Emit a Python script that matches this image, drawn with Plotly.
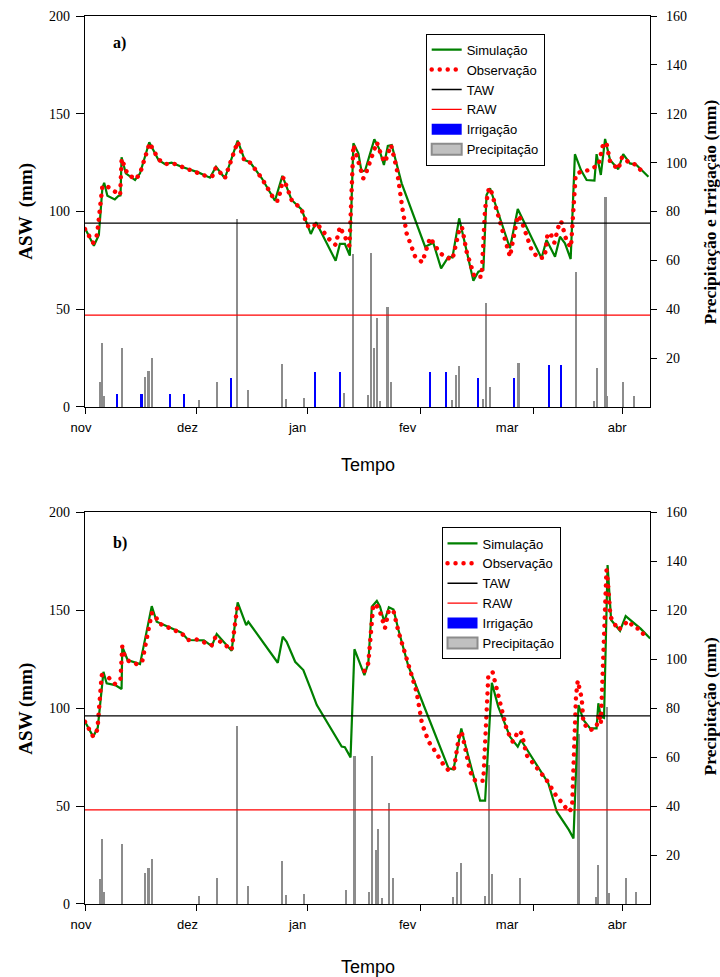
import plotly.graph_objects as go

# ---------------- axis labels / ticks ----------------
months = ["nov", "dez", "jan", "fev", "mar", "abr"]
month_start_day = [0, 30, 61, 92, 120, 151]
tick_mark_day = [0, 31.5, 62.8, 94.4, 126.2, 151.3]
x_max = 159.15
asw_ticks = [0, 50, 100, 150, 200]
rain_ticks = [20, 40, 60, 80, 100, 120, 140, 160]

# ---------------- panel a ----------------
TAW_a = 94
RAW_a = 47
sim_a_day = [0, 2.5, 3.9, 4.9, 5.4, 6.3, 8.4, 9.4, 10.0, 10.3, 11.5, 14.1, 15.5, 18.1, 20.7, 22.5,
             24.4, 27.2, 31.9, 35.2, 36.9, 39.4, 43, 45, 46.5, 49.8, 53.5, 55.6, 58.2, 61, 63.6,
             65.1, 70.6, 71.8, 73.2, 74.6, 75.6, 77, 77.9, 78.9, 81.5, 82.8, 84.2, 85.3, 86.4,
             89.2, 95.8, 98.1, 100.3, 102.4, 103.5, 105.4, 109.4, 110.8, 112.2, 113.1, 114.1,
             119.7, 121.9, 128.6, 130, 132.4, 133.8, 135.2, 136.8, 138, 139.7, 141.3, 143.5,
             144.1, 145.3, 146.5, 147.9, 150.2, 151.6, 153.5, 155.2, 158.7]
sim_a_asw = [91.4, 82.5, 88, 112, 114.7, 108, 106.2, 107.9, 108.2, 127.7, 119.5, 116.1, 119.5, 135.4,
             126.3, 124.3, 125, 122.9, 120, 117.3, 122.9, 117, 136.2, 126.3, 125.2, 117, 105.5,
             118.2, 105.9, 101.1, 88.5, 94.5, 74.8, 83.4, 83.4, 77.4, 134.9, 129.8, 120.4, 121,
             136.9, 132.3, 123.8, 133.5, 134, 114.4, 82, 84, 70.9, 76.9, 76.5, 96.5, 64.6, 69.2,
             70.1, 108.4, 111.9, 81.2, 101.3, 76.1, 85.4, 76.9, 87.1, 83.7, 75.7, 129.3, 121.2,
             116.1, 115.8, 129.3, 118.7, 137.1, 126.3, 121.6, 129.3, 124.6, 124.0, 117.8]
obs_a_day = [0, 2.3, 3.4, 4.9, 6.1, 8.3, 9.9, 10.3, 12, 14.3, 15.5, 18.2, 20.7, 22.5, 25, 27.2,
             29.5, 31.9, 34, 35.9, 36.9, 39.4, 43, 45, 46.5, 49.8, 53.5, 54.4, 55.9, 58.2, 61,
             62.7, 64.3, 65.1, 67.1, 69, 70.6, 71.1, 71.8, 72.8, 73.7, 74.5, 75.6, 77, 78.4,
             79.3, 82.2, 83.6, 84.5, 86.2, 87.8, 89.4, 90.6, 93, 95, 97.2, 99.7, 101.4, 103.5,
             105.6, 106.2, 107.5, 109.7, 111.7, 112.7, 113.8, 114.5, 119.7, 121.9, 122.8, 124.4,
             125.8, 127.7, 129.5, 130.3, 131.2, 132.2, 133.3, 134.1, 134.8, 135.7, 136.9, 138.2,
             139.7, 142, 143.7, 144.6, 146, 146.9, 147.9, 150.2, 151.3, 153.5, 155.2, 157.3]
obs_a_asw = [91, 84, 88, 113, 113, 110.6, 108.4, 127, 119, 116.5, 119.5, 135, 126.7, 124.3, 124.5,
             122.9, 121.3, 120, 118.2, 118.2, 122.5, 117, 135.7, 125.6, 125, 117, 105.5, 105.5,
             117.3, 105.9, 101.1, 92.6, 91.9, 94.3, 89.4, 85.4, 82.9, 87.1, 92.2, 88.5, 84.6,
             82.4, 134, 125.5, 117, 120.4, 135.4, 128, 125.2, 134, 122.1, 101.6, 88.8, 76.9, 74,
             86.6, 79.4, 76.6, 75.5, 91.9, 91.9, 79.4, 66.6, 66.6, 101.6, 112.2, 110, 76.9, 97.9,
             96, 88, 80.3, 76.1, 76.5, 88.8, 88.5, 84, 91.9, 95.1, 91, 84.6, 81.7, 118.7, 120.4,
             121.2, 122.9, 123.5, 134.9, 134.9, 125.5, 121.6, 128, 124.6, 124, 119.5]
precip_a_day = [4.2, 4.9, 5.4, 10.4, 16.9, 17.9, 18.8, 32.1, 37.1, 42.9, 45.8, 55.6, 56.5, 61.6,
                73.0, 75.6, 79.7, 80.5, 81.5, 82.2, 83.1, 85.2, 86.3, 103.3, 104.5, 105.4, 112.0,
                112.9, 114.1, 122.1, 138.2, 143.4, 144.1, 146.6, 147.1, 151.6, 154.6]
precip_a_mm = [10.1, 26.0, 4.5, 24.1, 12.4, 14.6, 19.9, 3.0, 10.1, 76.9, 7.0, 17.5, 3.3, 3.8, 5.6,
               62.6, 4.9, 62.9, 24.0, 36.3, 2.5, 41.0, 10.4, 2.9, 13.1, 16.8, 3.3, 42.4, 8.3,
               18.1, 55.1, 2.6, 15.8, 86.0, 4.5, 10.4, 4.6]
irrig_a_day = [8.9, 15.9, 24.0, 28.0, 41.2, 64.9, 71.8, 97.3, 101.7, 110.8, 120.9, 130.7, 134.0]
irrig_a_mm = [5.3, 5.3, 5.3, 5.3, 11.9, 14.2, 14.2, 14.2, 14.2, 11.7, 11.7, 17.2, 17.2]

# ---------------- panel b ----------------
TAW_b = 96
RAW_b = 48
sim_b_day = [0, 2.3, 3.6, 5.2, 6.1, 8.5, 10.3, 10.5, 12, 15.5, 18.8, 20.2, 27.2, 29.1, 33.5, 35.7,
             37.1, 41.3, 43, 45.4, 46, 49.8, 54.3, 55.7, 56.8, 59.2, 61.5, 63.4, 65.3, 72.3, 73.2,
             74.8, 75.9, 78.7, 79.8, 80.8, 82.2, 83.1, 84.3, 85.6, 86.9, 88.3, 91, 93.9, 102.4,
             103.8, 106, 107, 111.3, 112.7, 114.6, 116.4, 119.7, 121.9, 122.8, 130.5, 132.9,
             136.3, 137.6, 139, 140.4, 142.3, 144.1, 144.6, 145.3, 146.2, 147.2, 148.2, 150.7,
             152.3, 154, 155.1, 156.5, 159.2]
sim_b_asw = [93, 85.4, 90, 118.5, 112.6, 111.7, 109.7, 131.3, 124.5, 122.4, 152, 144, 138.4, 134.7,
             134.5, 131.6, 137.8, 129.2, 153.9, 142.3, 144, 134.7, 123.1, 136.4, 133.8, 123.6,
             119.4, 110.5, 101.5, 80.3, 80, 74.8, 130, 116.8, 122.8, 151.7, 154.6, 151.7, 144,
             151.4, 150.3, 139.8, 121.9, 108.3, 69.2, 68.7, 89.6, 82, 52.7, 52.7, 112.9, 100.7,
             85.4, 80.3, 83.7, 61.6, 47.1, 37.8, 33.5, 101.5, 93.9, 89.6, 89.6, 102.4, 95.6, 95,
             173, 144.9, 139.4, 146.9, 144.4, 142.3, 140.5, 135.5]
obs_b_day = [0, 2.3, 3.5, 4.7, 6.6, 8.5, 10, 10.5, 11.1, 12.3, 14.6, 16.1, 18.8, 19.5, 20.8, 22.8,
             25.2, 27.2, 29.1, 31.4, 33.6, 35.7, 36.8, 37.8, 39.9, 41.3, 42.9, None,
             78.7, 79.8, 81.2, 82, 83.1, 84.5, 85.6, 86.9, 88.3, 93.4, 94.9, 96.8, 98.1, 100.9,
             102.5, 103.9, 105.4, 106.1, 107, 108.5, 109.9, 112.2, 113.6, 114.8, 118.8, 120.5,
             122.1, 123, 124.4, 127.2, 130, 132.6, 134.4, 136.3, 137.2, 138.3, 138.8, 139.4,
             139.9, 140.4, 142.3, 144.1, 144.8, 145.3, 146.9, 147.3, 148, 150.2, 151.5, 153,
             154.9, 156.2, 157.7]
obs_b_asw = [93, 85.4, 89, 116.8, 115.6, 112.2, 114.8, 131.3, 127, 124, 122.4, 123.6, 148.3, 148.3,
             143.2, 141.5, 140, 138.1, 134.7, 135, 133.5, 132.1, 136.4, 134.3, 131.6, 129.6, 151.7,
             None,
             118.9, 122.8, 152.6, 152.8, 149.1, 140.7, 150, 149.5, 139, 108.3, 92.2, 82.8, 79.4,
             71.3, 68, 68.7, 86.2, 87.9, 80.3, 67.5, 62.9, 62.9, 116, 118.5, 88.8, 82.8, 88.4,
             87.1, 76, 69.2, 63.3, 55.6, 51, 47.1, 49, 105.8, 113.9, 109.5, 105, 92.2, 88.6, 90.5,
             97.3, 92, 170.4, 164, 146.6, 139.8, 142, 144.5, 140.7, 140.5, 136.7]
precip_b_day = [4.2, 4.9, 5.4, 10.4, 16.9, 17.9, 18.8, 32.1, 37.1, 42.9, 45.8, 55.6, 56.5, 61.6,
                73.4, 75.9, 80.0, 80.8, 82.0, 82.6, 83.6, 85.6, 86.7, 103.7, 104.9, 106.0, 112.7,
                113.7, 114.6, 122.6, 139.0, 144.0, 144.6, 147.1, 147.7, 152.3, 155.3]
precip_b_mm = [10.2, 26.4, 4.8, 24.4, 12.5, 14.8, 18.4, 3.3, 10.7, 72.7, 7.3, 17.6, 3.7, 4.1, 5.7,
               60.4, 5.0, 60.5, 22.0, 30.6, 2.6, 41.1, 10.5, 3.0, 12.9, 16.6, 3.3, 56.6, 12.2,
               10.5, 69.4, 3.0, 15.9, 80.5, 4.6, 10.7, 4.8]
irrig_b_day = []
irrig_b_mm = []

# ---------------- styles ----------------
GREEN = "#008000"
RED = "#ff0000"
BLUE = "#0000ff"
GRAY = "#8c8c8c"
LIGHTGRAY = "#c0c0c0"
SERIF = "Liberation Serif, Times New Roman, serif"
SANS = "Liberation Sans, Arial, sans-serif"
BAR_W = 0.6

fig = go.Figure()


def add_panel(xa, ya_asw, ya_rain, legend, sim_d, sim_v, obs_d, obs_v, taw, raw,
              irr_d, irr_v, pr_d, pr_v):
    # lines on the (overlaying) ASW axis so they are drawn above the bars
    fig.add_trace(go.Scatter(x=sim_d, y=sim_v, mode="lines", name="Simulação",
                             line=dict(color=GREEN, width=2.2), xaxis=xa, yaxis=ya_asw,
                             legend=legend))
    fig.add_trace(go.Scatter(x=obs_d, y=obs_v, mode="lines", name="Observação",
                             line=dict(color=RED, width=4.5, dash="4px,4px"), xaxis=xa,
                             yaxis=ya_asw, legend=legend, connectgaps=False))
    fig.add_trace(go.Scatter(x=[0, x_max], y=[taw, taw], mode="lines", name="TAW",
                             line=dict(color="black", width=1.3), xaxis=xa, yaxis=ya_asw,
                             legend=legend))
    fig.add_trace(go.Scatter(x=[0, x_max], y=[raw, raw], mode="lines", name="RAW",
                             line=dict(color=RED, width=1.3), xaxis=xa, yaxis=ya_asw,
                             legend=legend))
    fig.add_trace(go.Bar(x=irr_d if irr_d else [None], y=irr_v if irr_v else [None],
                         width=BAR_W, name="Irrigação",
                         marker=dict(color=BLUE, line=dict(width=0)), xaxis=xa,
                         yaxis=ya_rain, legend=legend))
    fig.add_trace(go.Bar(x=pr_d, y=pr_v, width=BAR_W, name="Precipitação", showlegend=False,
                         marker=dict(color=GRAY, line=dict(width=0)), xaxis=xa,
                         yaxis=ya_rain, legend=legend))
    # legend-only entry (light fill with darker border, as in the original legend)
    fig.add_trace(go.Bar(x=[None], y=[None], name="Precipitação",
                         marker=dict(color=LIGHTGRAY, line=dict(color=GRAY, width=2)),
                         xaxis=xa, yaxis=ya_rain, legend=legend))


add_panel("x", "y2", "y", "legend", sim_a_day, sim_a_asw, obs_a_day, obs_a_asw, TAW_a, RAW_a,
          irrig_a_day, irrig_a_mm, precip_a_day, precip_a_mm)
add_panel("x2", "y4", "y3", "legend2", sim_b_day, sim_b_asw, obs_b_day, obs_b_asw, TAW_b, RAW_b,
          irrig_b_day, irrig_b_mm, precip_b_day, precip_b_mm)

dom_a = [0.5597, 1.0]
dom_b = [0.0, 0.4414]


def xaxis_cfg(anchor):
    return dict(anchor=anchor, domain=[0, 1], range=[0, x_max], tickmode="array",
                tickvals=month_start_day, ticktext=months, ticks="", ticklabelshift=-4,
                ticklabelstandoff=8, tickfont=dict(family=SANS, size=13, color="black"),
                showline=True, linecolor="black", linewidth=1.2, mirror=True,
                showgrid=False, zeroline=False, automargin=False,
                minor=dict(tickmode="array", tickvals=tick_mark_day, ticks="outside",
                           ticklen=6, tickcolor="black", tickwidth=1.2, showgrid=False))


def rain_cfg(anchor, dom):
    return dict(anchor=anchor, domain=dom, side="right", range=[0, 160], tickmode="array",
                tickvals=rain_ticks, ticks="outside", ticklen=6, tickcolor="black",
                tickwidth=1.2, showline=True, linecolor="black", linewidth=1.2,
                tickfont=dict(family=SERIF, size=14, color="black"), ticklabelstandoff=6,
                showgrid=False, zeroline=False, automargin=False)


def asw_cfg(anchor, overlay):
    return dict(anchor=anchor, overlaying=overlay, side="left", range=[0, 200],
                tickmode="array", tickvals=asw_ticks, ticks="outside", ticklen=8,
                tickcolor="black", tickwidth=1.2, showline=True, linecolor="black",
                linewidth=1.2, tickfont=dict(family=SERIF, size=14, color="black"),
                ticklabelstandoff=3, showgrid=False, zeroline=False, automargin=False)


legend_common = dict(xanchor="left", yanchor="top", bgcolor="white", bordercolor="black",
                     borderwidth=1, font=dict(family=SANS, size=13, color="black"),
                     tracegroupgap=0, itemwidth=30)

left_font = dict(family=SERIF, size=19, color="black")
right_font = dict(family=SERIF, size=17.5, color="black")
annotations = [
    dict(text="<b>a)</b>", x=0.046, y=0.9696, xref="paper", yref="paper", xanchor="left",
         yanchor="middle", showarrow=False, font=dict(family=SERIF, size=16, color="black")),
    dict(text="<b>b)</b>", x=0.046, y=0.4065, xref="paper", yref="paper", xanchor="left",
         yanchor="middle", showarrow=False, font=dict(family=SERIF, size=16, color="black")),
    dict(text="<b>ASW  (mm)</b>", x=-0.106, y=0.7798, xref="paper", yref="paper",
         xanchor="center", yanchor="middle", textangle=-90, showarrow=False, font=left_font),
    dict(text="<b>ASW (mm)</b>", x=-0.106, y=0.2201, xref="paper", yref="paper",
         xanchor="center", yanchor="middle", textangle=-90, showarrow=False, font=left_font),
    dict(text="<b>Precipitação e Irrigação (mm)</b>", x=1.106, y=0.7798, xref="paper",
         yref="paper", xanchor="center", yanchor="middle", textangle=-90, showarrow=False,
         font=right_font),
    dict(text="<b>Precipitação (mm)</b>", x=1.106, y=0.2224, xref="paper", yref="paper",
         xanchor="center", yanchor="middle", textangle=-90, showarrow=False, font=right_font),
    dict(text="Tempo", x=0.501, y=0.4944, xref="paper", yref="paper", xanchor="center",
         yanchor="middle", showarrow=False, font=dict(family=SANS, size=18, color="black")),
    dict(text="Tempo", x=0.501, y=-0.0709, xref="paper", yref="paper", xanchor="center",
         yanchor="middle", showarrow=False, font=dict(family=SANS, size=18, color="black")),
]

fig.update_layout(
    width=720, height=977,
    margin=dict(l=85, r=70, t=16, b=73, autoexpand=False),
    paper_bgcolor="white", plot_bgcolor="white",
    barmode="overlay", bargap=0,
    xaxis=xaxis_cfg("y"),
    xaxis2=xaxis_cfg("y3"),
    yaxis=rain_cfg("x", dom_a),
    yaxis2=asw_cfg("x", "y"),
    yaxis3=rain_cfg("x2", dom_b),
    yaxis4=asw_cfg("x2", "y3"),
    legend=dict(x=0.603, y=0.98, **legend_common),
    legend2=dict(x=0.631, y=0.424, **legend_common),
    annotations=annotations,
    font=dict(family=SANS, color="black"),
    hovermode=False,
)

post = """
document.body.style.margin = '0';
document.body.style.padding = '0';
var gd = document.getElementById('{plot_id}');
function fixDots(){
  gd.querySelectorAll('path').forEach(function(p){
    var s = p.style;
    if (s.stroke === 'rgb(255, 0, 0)' && s.strokeDasharray && s.strokeDasharray !== 'none') {
      s.strokeLinecap = 'round';
      s.strokeDasharray = '0.01px, 8px';
    }
  });
  gd.querySelectorAll('g.legendpoints path').forEach(function(p){
    var d = p.getAttribute('d') || '';
    if (d.indexOf('M6,6H-6V-6H6Z') === 0) {
      p.setAttribute('d', 'M15,5.5H-15V-5.5H15Z');
    }
  });
}
fixDots();
gd.on('plotly_afterplot', fixDots);
var obs = new MutationObserver(function(){ fixDots(); });
obs.observe(gd, {childList: true, subtree: true});
[100, 400, 800, 1500, 3000].forEach(function(t){ setTimeout(fixDots, t); });
"""

fig.write_html("out.html", post_script=post, config={"displayModeBar": False})
